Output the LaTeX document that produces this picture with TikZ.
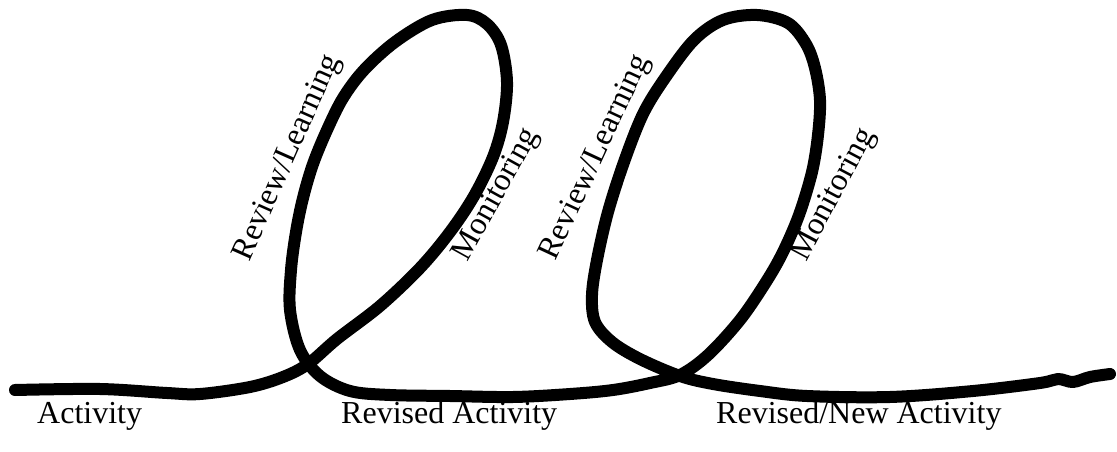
\documentclass[tikz,border=0pt]{standalone}
\usepackage{fontspec}
\setmainfont{Liberation Serif}
\begin{document}
\begin{tikzpicture}[x=1pt,y=-1pt,
  curve/.style={line width=12pt,line cap=round,line join=round,black},
  lbl/.style={font=\fontsize{32}{36}\selectfont,inner sep=0pt}]
\useasboundingbox (0,0) rectangle (1117,452);
\draw[curve] plot[smooth,tension=0.55] coordinates {
 (15,390) (100,389) (167,393) (200,394) (250,387) (283,377) (308,364)
 (337,339) (380,306) (420,268) (450,232) (474,196) (493,157) (503,122)
 (507,82) (501,45) (487,24) (467,15) (432,20) (395,42) (364,70) (343,98)
 (327,130) (313,164) (303,198) (296,232) (291,270) (290,310) (300,350)
 (320,376) (350,391) (390,395) (450,396) (513,397) (570,394) (613,390)
 (650,383) (680,375) (708,355) (740,320) (766,282) (783,252) (799,215)
 (812,172) (818,135) (820,100) (815,68) (806,44) (788,23) (757,15) (723,20)
 (694,40) (665,78) (643,114) (624,162) (608,212) (597,260) (592,295) (595,322)
 (612,342) (640,359) (680,376) (713,384) (760,391) (807,396) (890,397)
 (973,391) (1040,383) (1058,379) (1073,382) (1090,377) (1110,374)};
\node[lbl,rotate=66] (rl1) at (288,158) {Review/Learning};
\node[lbl,rotate=61] (mo1) at (497,195) {Monitoring};
\node[lbl,rotate=65] (rl2) at (596,158) {Review/Learning};
\node[lbl,rotate=62] (mo2) at (834,195) {Monitoring};
\node[lbl,anchor=base west] (a1) at (37,423) {Activity};
\node[lbl,anchor=base west] (a2) at (341,423) {Revised Activity};
\node[lbl,anchor=base west] (a3) at (716,423) {Revised/New Activity};
\end{tikzpicture}
\end{document}
